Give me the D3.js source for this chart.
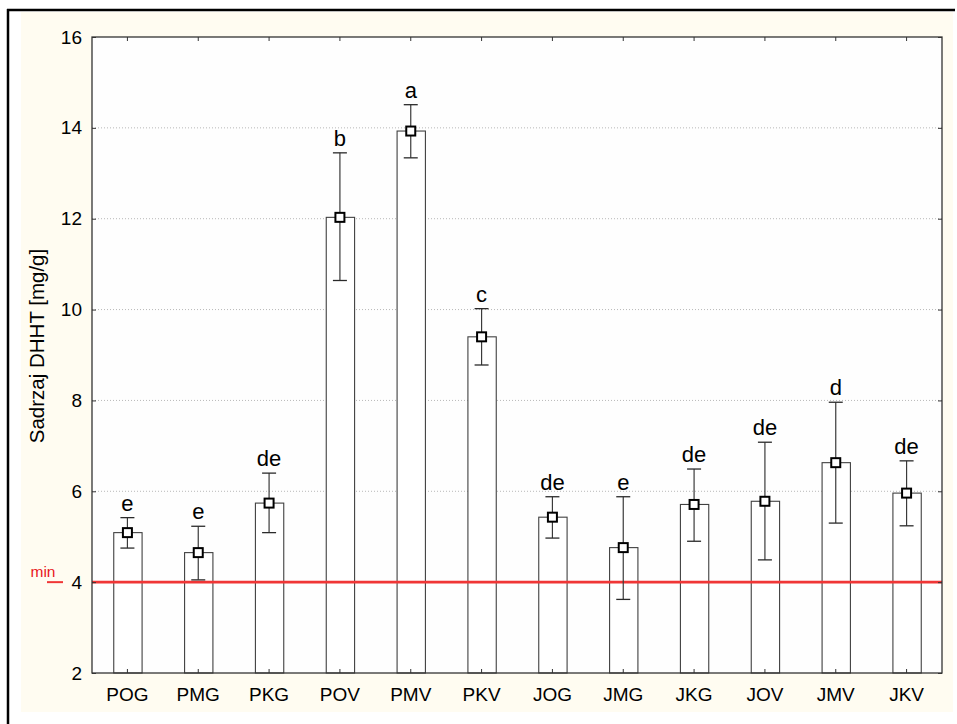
<!DOCTYPE html>
<html><head><meta charset="utf-8">
<script src="https://cdn.jsdelivr.net/npm/d3@7"></script>
<style>html,body{margin:0;padding:0;background:#fff;}svg{display:block;}</style>
</head><body>
<svg id="chart" width="957" height="724"></svg>
<script>
const categories = ["POG","PMG","PKG","POV","PMV","PKV","JOG","JMG","JKG","JOV","JMV","JKV"];
const means  = [5.09, 4.65, 5.74, 12.03, 13.93, 9.40, 5.43, 4.76, 5.71, 5.78, 6.63, 5.96];
const upper  = [5.42, 5.23, 6.40, 13.45, 14.51, 10.02, 5.88, 5.88, 6.49, 7.08, 7.96, 6.67];
const lower  = [4.75, 4.05, 5.09, 10.64, 13.34, 8.78, 4.97, 3.62, 4.90, 4.49, 5.30, 5.24];
const letters = ["e","e","de","b","a","c","de","e","de","de","d","de"];
const yTicks = [2,4,6,8,10,12,14,16];
const minValue = 4;
const yTitle = "Sadrzaj DHHT [mg/g]";

const data = categories.map((c,i)=>({c, m:means[i], hi:upper[i], lo:lower[i], l:letters[i]}));
const svg = d3.select("#chart");
const L=92, R=942, T=37, B=673;
const font = "Arial, 'Liberation Sans', sans-serif";

// frame and background
svg.append("rect").attr("x",21).attr("y",12).attr("width",932).attr("height",700).attr("fill","#fffcf1");
svg.append("line").attr("x1",8).attr("x2",8).attr("y1",9).attr("y2",724).attr("stroke","#000").attr("stroke-width",2.5);
svg.append("line").attr("x1",7).attr("x2",955).attr("y1",10).attr("y2",10).attr("stroke","#000").attr("stroke-width",2.5);
svg.append("rect").attr("x",L).attr("y",T).attr("width",R-L).attr("height",B-T).attr("fill","#fefefe");

const x = d3.scaleBand().domain(categories).range([L,R]).paddingInner(0.6).paddingOuter(0.3);
const y = d3.scaleLinear().domain([2,16]).range([B,T]);

// gridlines
svg.append("g").selectAll("line").data(yTicks.filter(t=>t>2&&t<16)).join("line")
  .attr("x1",L).attr("x2",R).attr("y1",d=>y(d)).attr("y2",d=>y(d))
  .attr("stroke","#b8b8b8").attr("stroke-width",1).attr("stroke-dasharray","1,2");

// bars
svg.append("g").selectAll("rect").data(data).join("rect")
  .attr("x",d=>x(d.c)+0.5).attr("width",x.bandwidth()).attr("y",d=>y(d.m)).attr("height",d=>y(2)-y(d.m))
  .attr("fill","#fff").attr("stroke","#404040").attr("stroke-width",1.1);

// red min line
svg.append("line").attr("x1",L).attr("x2",R).attr("y1",y(minValue)).attr("y2",y(minValue))
  .attr("stroke","#f03636").attr("stroke-width",2.6);
svg.append("line").attr("x1",47).attr("x2",63).attr("y1",y(minValue)).attr("y2",y(minValue))
  .attr("stroke","#f03636").attr("stroke-width",2);
svg.append("text").attr("x",43).attr("y",y(minValue)-5).attr("text-anchor","middle")
  .attr("font-family",font).attr("font-size",15.5).attr("fill","#e8161b").text("min");

// error bars
const eg = svg.append("g");
data.forEach(d=>{
  const cx = x(d.c)+x.bandwidth()/2;
  eg.append("line").attr("x1",cx).attr("x2",cx).attr("y1",y(d.hi)).attr("y2",y(d.lo)).attr("stroke","#3a3a3a").attr("stroke-width",1.2);
  [d.hi,d.lo].forEach(v=>eg.append("line").attr("x1",cx-7).attr("x2",cx+7).attr("y1",y(v)).attr("y2",y(v)).attr("stroke","#2a2a2a").attr("stroke-width",1.3));
  eg.append("rect").attr("x",cx-4.5).attr("y",y(d.m)-4.5).attr("width",9).attr("height",9)
    .attr("fill","#fff").attr("stroke","#000").attr("stroke-width",2);
  eg.append("text").attr("x",cx).attr("y",y(d.hi)-7).attr("text-anchor","middle")
    .attr("font-family",font).attr("font-size",22).attr("fill","#000").text(d.l);
});

// plot frame
svg.append("rect").attr("x",L).attr("y",T).attr("width",R-L).attr("height",B-T)
  .attr("fill","none").attr("stroke","#333").attr("stroke-width",1.3);

// axes
const yAxis = svg.append("g").attr("transform",`translate(${L},0)`)
  .call(d3.axisLeft(y).tickValues(yTicks).tickFormat(d3.format("d")).tickSize(-4).tickPadding(10));
const yAxisR = svg.append("g").attr("transform",`translate(${R},0)`)
  .call(d3.axisRight(y).tickValues(yTicks).tickSize(-4).tickFormat(""));
const xAxis = svg.append("g").attr("transform",`translate(0,${B})`)
  .call(d3.axisBottom(x).tickSize(-4).tickPadding(15));
const xAxisT = svg.append("g").attr("transform",`translate(0,${T})`)
  .call(d3.axisTop(x).tickSize(-4).tickFormat(""));
[yAxis,yAxisR,xAxis,xAxisT].forEach(g=>{
  g.attr("font-family",font).attr("font-size",19);
  g.select(".domain").remove();
  g.selectAll(".tick line").attr("stroke","#333");
  g.selectAll("text").attr("fill","#000");
});

svg.append("text").attr("transform",`translate(44,346) rotate(-90)`).attr("text-anchor","middle")
  .attr("font-family",font).attr("font-size",20.5).attr("fill","#000").text(yTitle);
</script>
</body></html>
